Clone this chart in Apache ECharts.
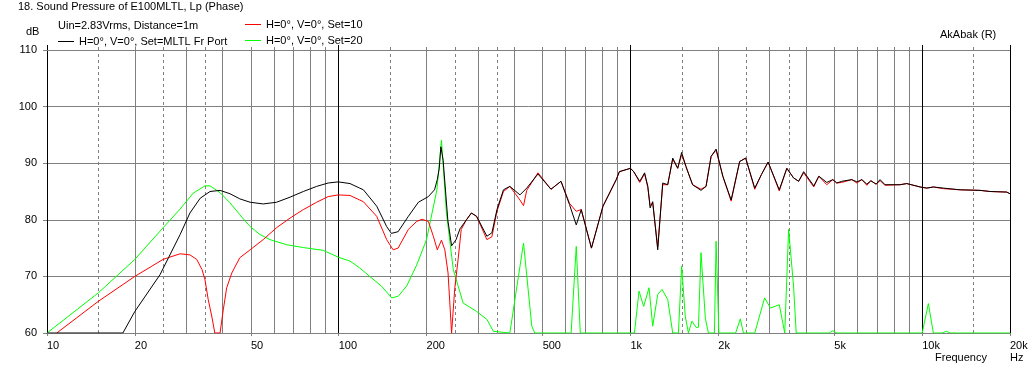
<!DOCTYPE html>
<html>
<head>
<meta charset="utf-8">
<script src="https://cdn.jsdelivr.net/npm/echarts@6/dist/echarts.min.js"></script>
<style>
  html, body { margin: 0; padding: 0; background: #fff; }
  #main { width: 1036px; height: 371px; }
</style>
</head>
<body>
<div id="main"></div>
<script>
  // frequency ticks
  const xTickValues = [10, 20, 50, 100, 200, 500, 1000, 2000, 5000, 10000, 20000];
  const xTickLabels = ['10', '20', '50', '100', '200', '500', '1k', '2k', '5k', '10k', '20k'];
  const gridSolid = [20, 30, 40, 50, 60, 70, 80, 90, 200, 300, 400, 500, 600, 700, 800, 900,
    2000, 3000, 4000, 5000, 6000, 7000, 8000, 9000];
  const gridDashed = [15, 25, 35, 150, 250, 350, 1500, 2500, 3500, 15000];
  const gridDecade = [100, 1000, 10000, 20000];

  // black: H=0°, V=0°, Set=MLTL Fr Port
  const blackFreq = [10, 18.2, 20, 24.4, 28.6, 30.9, 33.5, 36.2, 39.2, 42.4, 45.8, 49.7, 55.1, 61.2, 68.1,
    75.6, 84, 92, 99.6, 109.3, 118, 121.5, 135, 146, 151.5, 159.8, 173.2, 187.5, 202.9, 213, 217.7, 221,
    224, 228, 236.5, 243.7, 252.5, 260.4, 274, 285, 297, 322, 335, 348.6, 367, 386, 418, 441,
    482, 534, 578, 618, 652, 678, 735, 805, 894, 916, 1000, 1026, 1076, 1118, 1147, 1168, 1192, 1240, 1290,
    1342, 1396, 1452, 1498, 1550, 1633, 1745, 1816, 1890, 1966, 2073, 2214, 2368, 2483, 2667, 2812, 2964,
    3237, 3436, 3623, 3772, 3924, 4250, 4424, 4709, 4939, 5096, 5300, 5737, 5973, 6213, 6461, 6668, 6952,
    7172, 7459, 8398, 8856, 9838, 10370, 10920, 11820, 13490, 15780, 17090, 19500, 20000];
  const blackDb = [60, 60, 63.8, 70.3, 77.4, 81.2, 83.8, 85, 85.2, 84.6, 83.7, 83.1, 82.8, 83.1, 84,
    85, 85.9, 86.5, 86.7, 86.4, 85.6, 85.3, 82.4, 78.8, 77.6, 77.9, 80.6, 83.1, 84.1, 85.3, 87.1, 89,
    92.9, 90.5, 80, 75.4, 76.5, 78.4, 80, 81.2, 80.6, 77.1, 77.7, 81.8, 85.3, 85.9, 84.4, 85.6,
    88.1, 85.4, 86.8, 82.7, 79.1, 81.8, 75, 82.4, 87.1, 88.5, 89.1, 88.5, 86.8, 88.3, 85.9, 82.1, 83.2, 74.7, 86.5,
    86.2, 90.9, 89.1, 91.9, 89.4, 86.2, 85.2, 85.9, 91.2, 92.5, 87.7, 83.5, 90.3, 90.9, 85.6, 88, 90.2,
    85.3, 89.1, 87.4, 86.8, 88.5, 86, 87.7, 86.6, 87.1, 86.5, 86.8, 87.1, 86.7, 87.1, 86.3, 86.9, 86.3,
    87.1, 86.2, 86.2, 86.4, 85.8, 85.6, 85.8, 85.6, 85.3, 85.2, 85, 84.9, 84.6];

  // red: H=0°, V=0°, Set=10
  const redFreq = [10.8, 15, 20, 25, 28.6, 30.9, 32.6, 34, 34.8, 35.7, 36.7, 37.6, 39.2, 40.2, 41.3, 43,
    45.8, 49.7, 55.1, 61.2, 68.1, 75.6, 84, 92, 99.6, 109.3, 118, 121.5, 135, 146, 153.6, 159.8, 173.2,
    185, 193, 202.9, 211, 217.7, 225, 231, 237, 243.7, 250, 256.6, 263, 274, 285, 297, 322, 335, 348.6, 367,
    386, 418, 430, 441, 482, 534, 578, 618, 652, 678, 735, 805, 894, 916, 1000, 1026, 1076, 1118, 1147,
    1168, 1192, 1240, 1290, 1342, 1396, 1452, 1498, 1550, 1633, 1745, 1816, 1890, 1966, 2073, 2214, 2368,
    2483, 2667, 2812, 2964, 3237, 3436, 3623, 3772, 3924, 4250, 4424, 4709, 4939, 5096, 5300, 5737, 5973,
    6213, 6461, 6668, 6952, 7172, 7459, 8398, 8856, 9838, 10370, 10920, 11820, 13490, 15780, 17090, 19500, 20000];
  const redDb = [60, 65.6, 70, 73, 74, 73.8, 73, 71.2, 69.4, 65.9, 63, 60, 60, 64.1, 68, 70.6,
    73.3, 74.7, 76.5, 78.6, 80.3, 81.8, 83.1, 84.1, 84.4, 84.3, 83.5, 83.2, 80.6, 76.5, 74.7, 75, 78.3,
    79.7, 80.1, 79.7, 77.1, 74.7, 76.4, 74.7, 70.6, 60, 68, 73, 78.3, 80, 81.2, 80.6, 76.5, 77, 81.5, 85,
    85.9, 83.5, 82.5, 85.2, 88.3, 85.4, 86.8, 82.9, 81.5, 81.8, 75, 82.4, 87.1, 88.5, 89.1, 88.5, 86.6, 88.1, 85.7,
    82.5, 83, 75.2, 86.2, 86.2, 90.7, 89.1, 91.5, 89.4, 86.2, 85.4, 85.9, 91.2, 92.3, 87.7, 83.3, 90.3,
    90.9, 85.4, 88, 90.2, 85.1, 89.1, 87.4, 86.8, 88.3, 85.8, 87.7, 86.2, 87.1, 86.5, 86.6, 87.1, 86.5,
    87.1, 86.1, 86.9, 86.3, 86.9, 86.1, 86.2, 86.4, 85.8, 85.6, 85.8, 85.5, 85.3, 85.2, 85, 84.9, 84.6];

  // green: H=0°, V=0°, Set=20
  const greenFreq = [10, 15, 20, 25, 28.6, 31.7, 34.8, 36.2, 39.2, 42.4, 45.8, 49.7, 53.7, 58.1, 66.3, 75.6,
    88.5, 99.6, 109.3, 118, 127.7, 140, 152, 160, 171, 185, 200, 217, 225, 234, 247, 267, 297, 322, 339, 386,
    430, 459, 470, 626, 652, 673, 1032, 1070,
    1110, 1158, 1192, 1240, 1283, 1342, 1396, 1460, 1498, 1541, 1580, 1625, 1678, 1710, 1745, 1806, 1850,
    1940, 1966, 2010, 2294, 2380, 2440, 2667, 2883, 3020, 3237, 3380, 3485, 3623, 3700, 4800, 4939, 5100,
    10000, 10500, 10920, 11700, 12100, 12500, 20000];
  const greenDb = [60, 67.1, 73, 78.6, 81.9, 84.7, 86, 86, 84.8, 83, 80.9, 78.8, 77.4, 76.5, 75.6, 75.1,
    74.6, 73.4, 72.7, 71.5, 70, 68.3, 66.2, 66.5, 68.3, 72, 76.5, 85.3, 94.1, 81.2, 71.2, 65.3, 63.8, 62.4, 60.3, 60,
    75.9, 61.2, 60, 60, 75.3, 60, 60, 67.4,
    64.7, 68, 61.2, 66.8, 67.7, 65.9, 60, 60, 71.8, 63, 60, 62.1, 61, 61, 74.2, 62.6, 60,
    60, 76.2, 60, 60, 62.5, 60, 60, 66.2, 64.4, 65, 60, 78.3, 68.3, 60, 60, 60.4, 60,
    60, 65.2, 60, 60, 60.3, 60, 60];

  const pairs = (fs, vs) => fs.map((f, i) => [f, vs[i]]);
  const gray = '#808080';
  const font = 'Liberation Sans';

  const gridLines = []
    .concat(gridSolid.map(f => ({xAxis: f, lineStyle: {color: gray, type: 'solid', width: 1}})))
    .concat(gridDashed.map(f => ({xAxis: f, lineStyle: {color: gray, type: [3, 3], width: 1}})))
    .concat(gridDecade.map(f => ({xAxis: f, lineStyle: {color: '#000', type: 'solid', width: 1}})));

  const labelFor = function (v) {
    const i = xTickValues.findIndex(t => Math.abs(t - v) / t < 1e-6);
    return i >= 0 ? xTickLabels[i] : '';
  };

  const axisBase = {type: 'log', logBase: 10, min: 10, max: 20000, gridIndex: 0};
  const legendText = {fontFamily: font, fontSize: 11, color: '#000', lineHeight: 13};

  const chart = echarts.init(document.getElementById('main'), null, {renderer: 'canvas'});
  chart.setOption({
    animation: false,
    backgroundColor: '#fff',
    textStyle: {fontFamily: font},
    grid: {left: 47, right: 26, top: 50, bottom: 38, containLabel: false},
    legend: [{
      data: [{name: 'H=0°, V=0°, Set=MLTL Fr Port', itemStyle: {color: '#000', borderWidth: 0}}],
      left: 53, top: 30, icon: 'rect', itemWidth: 16, itemHeight: 1,
      textStyle: legendText
    }, {
      data: [
        {name: 'H=0°, V=0°, Set=10', itemStyle: {color: '#ff0000', borderWidth: 0}},
        {name: 'H=0°, V=0°, Set=20', itemStyle: {color: '#00ff00', borderWidth: 0}}
      ],
      orient: 'vertical', left: 240, top: 13, icon: 'rect', itemWidth: 16, itemHeight: 1, itemGap: 3,
      textStyle: legendText
    }],
    graphic: [
      {type: 'text', left: 18, top: 1, style: {text: '18. Sound Pressure of E100MLTL, Lp (Phase)', font: '11px "Liberation Sans"', fill: '#000'}},
      {type: 'text', left: 58, top: 20, style: {text: 'Uin=2.83Vrms, Distance=1m', font: '11px "Liberation Sans"', fill: '#000'}},
      {type: 'text', left: 26, top: 26, style: {text: 'dB', font: '11px "Liberation Sans"', fill: '#000'}},
      {type: 'text', left: 940, top: 29, style: {text: 'AkAbak (R)', font: '11px "Liberation Sans"', fill: '#000'}},
      {type: 'text', left: 935, top: 352, style: {text: 'Frequency', font: '11px "Liberation Sans"', fill: '#000'}},
      {type: 'text', left: 1010, top: 352, style: {text: 'Hz', font: '11px "Liberation Sans"', fill: '#000'}}
    ],
    xAxis: [
      Object.assign({}, axisBase, {
        position: 'bottom',
        axisLine: {show: true, lineStyle: {color: gray}},
        axisTick: {show: true, customValues: xTickValues, length: 3, lineStyle: {color: gray}},
        axisLabel: {
          customValues: xTickValues, formatter: labelFor, align: 'left', margin: 7,
          fontFamily: font, fontSize: 11, color: '#000'
        },
        splitLine: {show: false}
      }),
      Object.assign({}, axisBase, {
        position: 'top',
        axisLine: {show: true, lineStyle: {color: gray}},
        axisTick: {show: true, customValues: gridSolid.concat(gridDashed), length: 3, lineStyle: {color: gray}},
        axisLabel: {show: false},
        splitLine: {show: false}
      }),
      Object.assign({}, axisBase, {
        position: 'top',
        axisLine: {show: false},
        axisTick: {show: true, customValues: [10].concat(gridDecade), length: 5, lineStyle: {color: '#000'}},
        axisLabel: {show: false},
        splitLine: {show: false}
      })
    ],
    yAxis: {
      type: 'value', min: 60, max: 110, interval: 10,
      axisLine: {show: true, lineStyle: {color: '#000'}},
      axisTick: {show: true, length: 4, lineStyle: {color: gray}},
      axisLabel: {
        fontFamily: font, fontSize: 11, color: '#000', margin: 10,
        verticalAlign: 'middle', padding: [0, 0, 9, 0]
      },
      splitLine: {show: true, lineStyle: {color: gray, width: 1}}
    },
    series: [{
      name: 'grid',
      type: 'line',
      data: [[10, 60]],
      symbol: 'none',
      silent: true,
      z: 1,
      markLine: {silent: true, symbol: 'none', z: 1, label: {show: false}, animation: false, data: gridLines}
    }, {
      name: 'H=0°, V=0°, Set=20',
      type: 'line',
      data: pairs(greenFreq, greenDb),
      symbol: 'none',
      z: 3,
      color: '#00ff00',
      lineStyle: {color: '#00ff00', width: 1}
    }, {
      name: 'H=0°, V=0°, Set=10',
      type: 'line',
      data: pairs(redFreq, redDb),
      symbol: 'none',
      z: 4,
      color: '#ff0000',
      lineStyle: {color: '#ff0000', width: 1}
    }, {
      name: 'H=0°, V=0°, Set=MLTL Fr Port',
      type: 'line',
      data: pairs(blackFreq, blackDb),
      symbol: 'none',
      z: 5,
      color: '#000000',
      lineStyle: {color: '#000000', width: 1}
    }]
  });
</script>
</body>
</html>
